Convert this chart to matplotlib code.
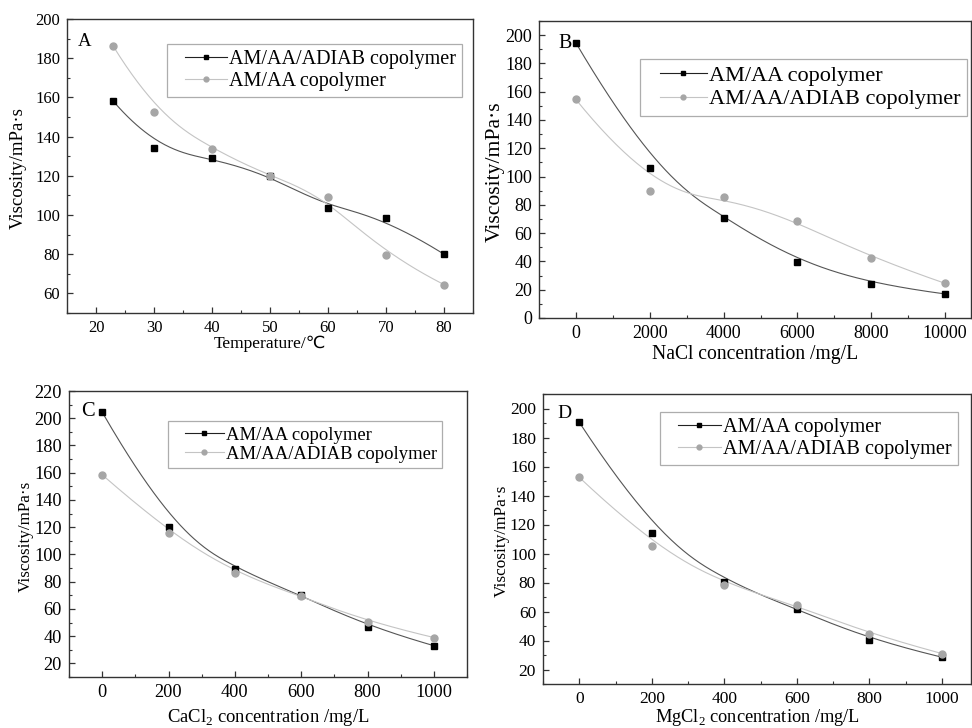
import numpy as np
import matplotlib
matplotlib.use('Agg')
import matplotlib.pyplot as plt
from matplotlib.lines import Line2D
from matplotlib.legend_handler import HandlerLine2D
from matplotlib.ticker import MultipleLocator

plt.rcParams['font.family'] = ['Liberation Serif', 'DejaVu Sans']
plt.rcParams['mathtext.fontset'] = 'custom'
plt.rcParams['mathtext.rm'] = 'Liberation Serif'

# ── DATA ──────────────────────────────────────────────────────────
temp = [23, 30, 40, 50, 60, 70, 80]
temp_adiab = [158, 134, 129, 120, 103.5, 98.5, 80]
temp_amaa = [186, 152.5, 133.5, 120, 109, 79.5, 64.5]

nacl = [0, 2000, 4000, 6000, 8000, 10000]
nacl_amaa = [194.5, 106, 71, 39.5, 24, 17]
nacl_adiab = [154.5, 90, 85.5, 68.5, 42.5, 24.5]

cacl = [0, 200, 400, 600, 800, 1000]
cacl_amaa = [204.5, 120, 89, 70.5, 47, 33]
cacl_adiab = [158.5, 116, 86, 69.5, 50.5, 39]

mgcl = [0, 200, 400, 600, 800, 1000]
mgcl_amaa = [190.5, 114, 80.5, 62, 40.5, 28.5]
mgcl_adiab = [152.5, 105.5, 78.5, 64.5, 44.5, 31]

LBL_ADIAB = 'AM/AA/ADIAB copolymer'
LBL_AMAA = 'AM/AA copolymer'

W, H = 972, 728
BLACK_LINE = '#555555'
GRAY_LINE = '#c4c4c4'
GRAY_MK = '#a6a6a6'


def px(x, y):
    # pixel (from top-left) -> figure fraction
    return x / W, 1 - y / H


def bspline(xs, ys, n=300):
    # clamped cubic B-spline, data points used as control points (Origin style)
    P = np.column_stack([xs, ys]).astype(float)
    m, k = len(P), 3
    knots = np.concatenate([[0] * k, np.arange(m - k + 1), [m - k] * k]).astype(float)
    t = np.linspace(0, m - k, n)
    t[-1] -= 1e-9

    def N(i, p):
        if p == 0:
            return ((knots[i] <= t) & (t < knots[i + 1])).astype(float)
        out = np.zeros_like(t)
        d1 = knots[i + p] - knots[i]
        d2 = knots[i + p + 1] - knots[i + 1]
        if d1 > 0:
            out += (t - knots[i]) / d1 * N(i, p - 1)
        if d2 > 0:
            out += (knots[i + p + 1] - t) / d2 * N(i + 1, p - 1)
        return out

    B = np.array([N(i, k) for i in range(m)])
    curve = B.T @ P
    return curve[:, 0], curve[:, 1]


class GapHandler(HandlerLine2D):
    # Origin-style legend: blank gap before the line sample
    def create_artists(self, legend, orig_handle, xdescent, ydescent,
                       width, height, fontsize, trans):
        gap = width * 0.22
        return super().create_artists(legend, orig_handle, xdescent - gap, ydescent,
                                      width - gap, height, fontsize, trans)


def draw_series(ax, x, y, kind):
    cx, cy = bspline(x, y)
    if kind == 'black':
        ax.plot(cx, cy, color=BLACK_LINE, lw=0.8, zorder=2)
        ax.plot(x, y, ls='none', marker='s', ms=4.3, color='black', zorder=3)
    else:
        ax.plot(cx, cy, color=GRAY_LINE, lw=0.8, zorder=2)
        ax.plot(x, y, ls='none', marker='o', ms=5, color=GRAY_MK, zorder=3)


def handle(kind):
    if kind == 'black':
        return Line2D([], [], color='#222222', lw=0.8, marker='s', ms=3.5, mfc='black', mec='black')
    return Line2D([], [], color=GRAY_LINE, lw=0.8, marker='o', ms=3.5, mfc=GRAY_MK, mec=GRAY_MK)


def style_axes(ax, tick_fs):
    for s in ax.spines.values():
        s.set_linewidth(1.0)
        s.set_color('#333333')
    ax.tick_params(which='both', direction='in', top=False, right=False,
                   labelsize=tick_fs, color='#333333', pad=5)
    ax.tick_params(which='major', length=4, width=0.9)
    ax.tick_params(which='minor', length=2.5, width=0.8)


fig = plt.figure(figsize=(W / 100, H / 100), dpi=100)

# panel layout: (left, top, right, bottom) in pixels
panels = [
    dict(box=(67, 19, 473, 313), x=temp, s1=temp_adiab, k1='black', l1=LBL_ADIAB,
         s2=temp_amaa, k2='gray', l2=LBL_AMAA, xlim=(15, 85), ylim=(50, 200),
         xmin=5, ymin=10, yticks=(60, 200), xticks=(20, 80, 10),
         xlabel='Temperature/\u2103', xl_fs=12.6, xl_y=344, ylabel_fs=13.5, yl_x=18,
         tick_fs=12, leg=(167, 44), leg_fs=14.5, letter='A', let_xy=(85, 42)),
    dict(box=(539, 21, 971, 318), x=nacl, s1=nacl_amaa, k1='black', l1=LBL_AMAA,
         s2=nacl_adiab, k2='gray', l2=LBL_ADIAB, xlim=(-1000, 10700), ylim=(0, 210),
         xmin=1000, ymin=10, yticks=(0, 200), xticks=(0, 10000, 2000),
         xlabel='NaCl concentration /mg/L', xl_fs=14.1, xl_y=354, ylabel_fs=15.6, yl_x=495,
         tick_fs=13, leg=(640, 59), leg_fs=16, letter='B', let_xy=(565, 43)),
    dict(box=(69, 391, 467, 677), x=cacl, s1=cacl_amaa, k1='black', l1=LBL_AMAA,
         s2=cacl_adiab, k2='gray', l2=LBL_ADIAB, xlim=(-100, 1100), ylim=(10, 220),
         xmin=100, ymin=10, yticks=(20, 220), xticks=(0, 1000, 200),
         xlabel='CaCl$_2$ concentration /mg/L', xl_fs=13.4, xl_y=717, ylabel_fs=12.3, yl_x=26,
         tick_fs=13.2, leg=(168, 421), leg_fs=13.4, letter='C', let_xy=(88, 412)),
    dict(box=(543, 394, 971, 684), x=mgcl, s1=mgcl_amaa, k1='black', l1=LBL_AMAA,
         s2=mgcl_adiab, k2='gray', l2=LBL_ADIAB, xlim=(-100, 1080), ylim=(10, 210),
         xmin=100, ymin=10, yticks=(20, 200), xticks=(0, 1000, 200),
         xlabel='MgCl$_2$ concentration /mg/L', xl_fs=13.2, xl_y=718, ylabel_fs=12.4, yl_x=502,
         tick_fs=12.5, leg=(660, 412), leg_fs=14.6, letter='D', let_xy=(564, 414)),
]

for p in panels:
    l, t, r, b = p['box']
    x0, y1 = px(l, t)
    x1, y0 = px(r, b)
    ax = fig.add_axes([x0, y0, x1 - x0, y1 - y0])

    draw_series(ax, p['x'], p['s1'], p['k1'])
    draw_series(ax, p['x'], p['s2'], p['k2'])

    ax.set_xlim(*p['xlim'])
    ax.set_ylim(*p['ylim'])
    xa, xb, xs = p['xticks']
    ax.set_xticks(np.arange(xa, xb + 1, xs))
    ax.xaxis.set_minor_locator(MultipleLocator(p['xmin']))
    ax.set_yticks(np.arange(p['yticks'][0], p['yticks'][1] + 1, 20))
    ax.yaxis.set_minor_locator(MultipleLocator(p['ymin']))
    style_axes(ax, p['tick_fs'])

    # axis labels placed by pixel position
    cx = (l + r) / 2
    fx, fy = px(cx, p['xl_y'])
    fig.text(fx, fy, p['xlabel'], fontsize=p['xl_fs'], ha='center', va='center')
    fx, fy = px(p['yl_x'], (t + b) / 2 + 2)
    fig.text(fx, fy, 'Viscosity/mPa\u00b7s', fontsize=p['ylabel_fs'], rotation=90,
             ha='center', va='center')

    # panel letter
    fx, fy = px(*p['let_xy'])
    fig.text(fx, fy, p['letter'], fontsize=p['tick_fs'] + 1.5, ha='center', va='center')

    h1, h2 = handle(p['k1']), handle(p['k2'])
    leg = ax.legend([h1, h2], [p['l1'], p['l2']],
                    loc='upper left', bbox_to_anchor=px(*p['leg']),
                    bbox_transform=fig.transFigure, borderaxespad=0,
                    fontsize=p['leg_fs'], frameon=True, fancybox=False,
                    handlelength=2.7, handletextpad=0.1, labelspacing=0.12,
                    borderpad=0.3, handler_map={Line2D: GapHandler()})
    leg.get_frame().set_edgecolor('#999999')
    leg.get_frame().set_linewidth(0.9)

fig.savefig('out.png', dpi=100)
